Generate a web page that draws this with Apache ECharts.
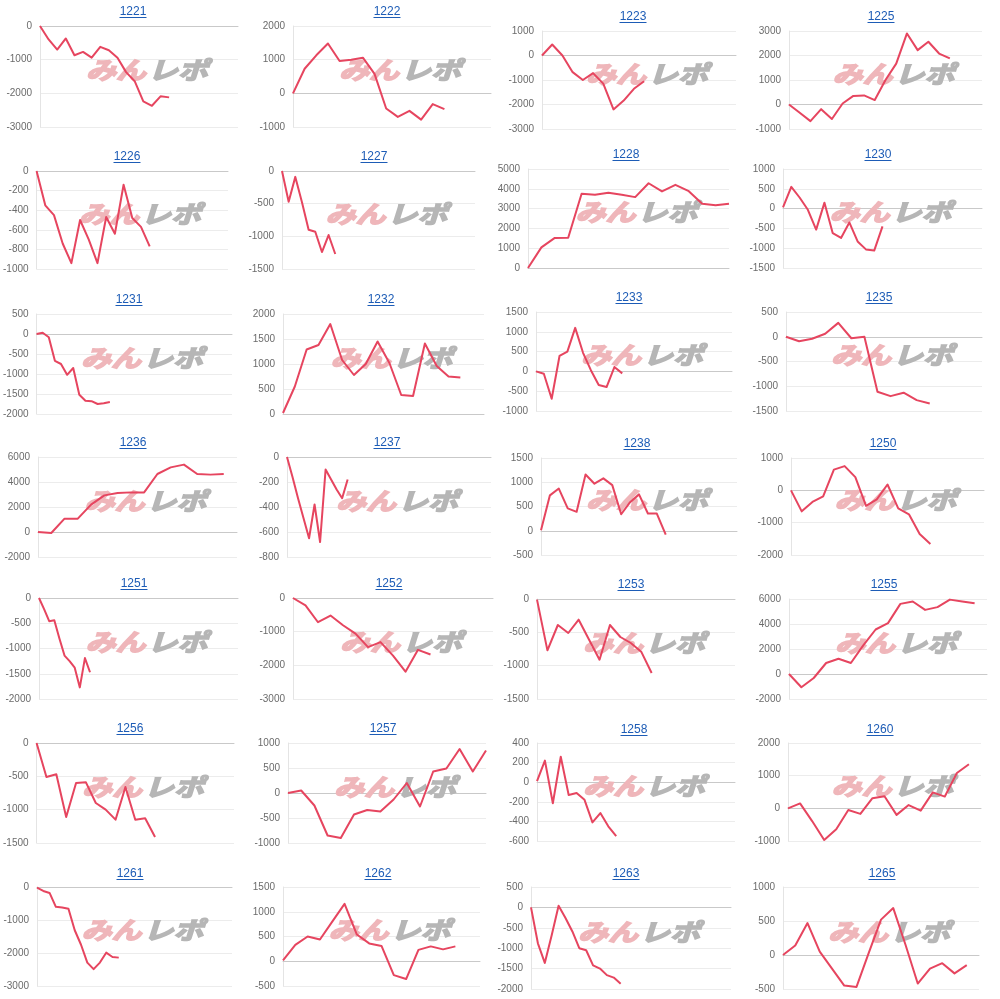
<!DOCTYPE html>
<html>
<head>
<meta charset="utf-8">
<script src="https://cdn.jsdelivr.net/npm/echarts@6/dist/echarts.min.js"></script>
<style>
  html, body { margin: 0; background: #fff; }
  #chart-container { width: 1000px; height: 999px; }
</style>
</head>
<body>
<div id="chart-container"></div>
<script>
// panel titles, in reading order (4 per row)
var names = ["1221", "1222", "1223", "1225", "1226", "1227", "1228", "1230",
  "1231", "1232", "1233", "1235", "1236", "1237", "1238", "1250",
  "1251", "1252", "1253", "1255", "1256", "1257", "1258", "1260",
  "1261", "1262", "1263", "1265"];

// running balance per panel
var s1221 = [0, -400, -700, -370, -870, -770, -940, -620, -720, -940, -1370, -1640, -2240, -2370, -2090, -2120];
var s1222 = [0, 730, 1130, 1480, 960, 1000, 1060, 580, -450, -700, -520, -780, -320, -470];
var s1223 = [0, 450, 0, -680, -1000, -720, -1150, -2200, -1840, -1360, -1050];
var s1225 = [0, -340, -680, -190, -590, 40, 350, 370, 180, 1000, 1670, 2900, 2220, 2560, 2080, 1880];
var s1226 = [0, -350, -450, -740, -940, -500, -700, -940, -470, -640, -140, -480, -570, -770];
var s1227 = [0, -470, -90, -480, -900, -930, -1240, -980, -1270];
var s1228 = [0, 1040, 1520, 1530, 3750, 3700, 3800, 3700, 3580, 4280, 3870, 4200, 3880, 3250, 3170, 3250];
var s1230 = [30, 550, 280, -30, -530, 150, -620, -740, -350, -830, -1030, -1060, -450];
var s1231 = [0, 30, -80, -670, -750, -1020, -850, -1520, -1670, -1680, -1750, -1730, -1700];
var s1232 = [20, 550, 1290, 1380, 1800, 1080, 780, 1000, 1450, 1020, 380, 360, 1410, 960, 750, 730];
var s1233 = [0, -60, -690, 390, 500, 1100, 470, 30, -345, -395, 110, -50];
var s1235 = [0, -90, -40, 60, 280, -30, 0, -1110, -1200, -1130, -1280, -1350];
var s1236 = [0, -80, 1070, 1070, 2190, 2930, 3120, 3170, 3170, 4640, 5170, 5390, 4640, 4590, 4640];
var s1237 = [0, -160, -330, -490, -650, -380, -680, -100, -180, -260, -330, -180];
var s1238 = [10, 730, 870, 460, 390, 1160, 970, 1080, 940, 340, 590, 750, 355, 355, -80];
var s1250 = [0, -650, -360, -190, 640, 750, 410, -480, -280, 180, -560, -740, -1350, -1660];
var s1251 = [0, -220, -460, -440, -800, -1140, -1250, -1380, -1770, -1190, -1470];
var s1252 = [0, -220, -720, -520, -810, -1060, -1460, -1310, -1710, -2190, -1540, -1680];
var s1253 = [-10, -770, -390, -510, -310, -610, -910, -390, -570, -660, -790, -1110];
var s1255 = [0, -1060, -320, 880, 1220, 880, 2290, 3560, 4070, 5610, 5800, 5130, 5350, 5950, 5800, 5660];
var s1256 = [0, -510, -470, -1110, -600, -590, -900, -1000, -1150, -660, -1150, -1130, -1410];
var s1257 = [0, 50, -250, -850, -900, -430, -340, -370, -130, 200, -270, 430, 490, 880, 430, 850];
var s1258 = [10, 220, -215, 260, -130, -110, -180, -410, -315, -450, -550];
var s1260 = [0, 150, -390, -970, -640, -50, -170, 310, 370, -200, 100, -70, 490, 360, 1080, 1350];
var s1261 = [-20, -120, -180, -600, -620, -660, -1310, -1750, -2290, -2490, -2290, -1990, -2120, -2140];
var s1262 = [20, 330, 500, 440, 800, 1160, 540, 360, 310, -280, -360, 230, 300, 240, 300];
var s1263 = [0, -880, -1360, -680, 40, -260, -590, -1000, -1050, -1420, -1500, -1660, -1720, -1870];
var s1265 = [0, 140, 470, 50, -200, -450, -470, 30, 520, 690, 150, -420, -200, -120, -270, -150];

var values = [s1221, s1222, s1223, s1225, s1226, s1227, s1228, s1230,
  s1231, s1232, s1233, s1235, s1236, s1237, s1238, s1250,
  s1251, s1252, s1253, s1255, s1256, s1257, s1258, s1260,
  s1261, s1262, s1263, s1265];

// y scale per panel
var yMin  = [-3000, -1000, -3000, -1000, -1000, -1500, 0, -1500,
  -2000, 0, -1000, -1500, -2000, -800, -500, -2000,
  -2000, -3000, -1500, -2000, -1500, -1000, -600, -1000,
  -3000, -500, -2000, -500];
var yMax  = [0, 2000, 1000, 3000, 0, 0, 5000, 1000,
  500, 2000, 1500, 500, 6000, 0, 1500, 1000,
  0, 0, 0, 6000, 0, 1000, 400, 2000,
  0, 1500, 500, 1000];
var yStep = [1000, 1000, 1000, 1000, 200, 500, 1000, 500,
  500, 500, 500, 500, 2000, 200, 500, 1000,
  500, 1000, 500, 2000, 500, 500, 200, 1000,
  1000, 500, 500, 500];
// number of x slots (days) on each panel
var slots = [24, 18, 20, 19, 23, 30, 16, 25,
  33, 18, 26, 16, 16, 38, 23, 19,
  40, 17, 20, 17, 21, 16, 26, 17,
  32, 17, 30, 17];

// plot boxes [left, right, top, bottom] and title centres [x, y]
var boxes = [
  [40, 238, 26, 127], [293, 491, 26, 127], [542, 736, 31, 129], [789, 982, 31, 129],
  [36, 228, 171, 269], [282, 475, 171, 269], [528, 729, 169, 268], [783, 982, 169, 268],
  [36, 232, 314, 414], [283, 484, 314, 414], [536, 732, 312, 411], [786, 982, 312, 411],
  [38, 237, 457, 557], [287, 491, 457, 557], [541, 737, 458, 555], [791, 984, 458, 555],
  [39, 238, 598, 699], [293, 493, 598, 699], [537, 735, 599, 699], [789, 987, 599, 699],
  [36, 234, 743, 843], [288, 486, 743, 843], [537, 735, 743, 841], [788, 981, 743, 841],
  [37, 232, 887, 986], [283, 480, 887, 986], [531, 731, 887, 989], [783, 979, 887, 989]
];
var heads = [
  [133, 12], [387, 12], [633, 17], [881, 17],
  [127, 157], [374, 157], [626, 155], [878, 155],
  [129, 300], [381, 300], [629, 298], [879, 298],
  [133, 443], [387, 443], [637, 444], [883, 444],
  [134, 584], [389, 584], [631, 585], [884, 585],
  [130, 729], [383, 729], [634, 730], [880, 730],
  [130, 874], [378, 874], [626, 874], [882, 874]
];

var dom = document.getElementById("chart-container");
var myChart = echarts.init(dom, null, { renderer: "canvas" });

var grids = [], xAxes = [], yAxes = [], seriesList = [], graphics = [];

function logoPart(text, x, y, color) {
  return {
    type: "text",
    x: x,
    y: y,
    z: 1,
    scaleX: 1.25,
    style: {
      text: text,
      fill: color,
      stroke: color,
      lineWidth: 1.6,
      font: "italic bold 24px 'Noto Sans CJK JP'",
      textAlign: "left",
      textVerticalAlign: "middle",
      align: "left",
      verticalAlign: "middle",
    },
  };
}

names.forEach(function (name, i) {
  var b = boxes[i];
  grids.push({ left: b[0], top: b[2], width: b[1] - b[0], height: b[3] - b[2] });

  var cats = [];
  for (var k = 0; k < slots[i]; k++) cats.push(String(k + 1));
  xAxes.push({
    type: "category",
    gridIndex: i,
    data: cats,
    boundaryGap: false,
    axisLabel: { show: false },
    axisTick: { show: false },
    axisLine: { show: true, onZero: true, lineStyle: { color: "#c9c9c9", width: 1 } },
    splitLine: { show: false },
  });
  yAxes.push({
    type: "value",
    gridIndex: i,
    min: yMin[i],
    max: yMax[i],
    interval: yStep[i],
    axisLine: { show: true, lineStyle: { color: "#e4e4e4" } },
    axisTick: { show: false },
    axisLabel: {
      color: "#6b6b6b",
      fontSize: 10,
      fontFamily: "Liberation Sans, Arial",
      margin: 8,
      formatter: function (v) { return String(v); },
    },
    splitLine: { lineStyle: { color: "#ececec" } },
  });
  seriesList.push({
    name: name,
    type: "line",
    xAxisIndex: i,
    yAxisIndex: i,
    data: values[i],
    showSymbol: false,
    silent: true,
    z: 3,
    lineStyle: { color: "#e6455f", width: 2, join: "round" },
  });

  // title with underline (link look)
  var h = heads[i];
  graphics.push({
    type: "text",
    x: h[0],
    y: h[1],
    z: 10,
    style: {
      text: name,
      fill: "#1d5cb6",
      font: "12px 'Liberation Sans', Arial",
      textAlign: "center",
      textVerticalAlign: "middle",
      align: "center",
      verticalAlign: "middle",
    },
  });
  graphics.push({
    type: "line",
    z: 10,
    shape: { x1: h[0] - 13.5, y1: h[1] + 5.5, x2: h[0] + 13.5, y2: h[1] + 5.5 },
    style: { stroke: "#1d5cb6", lineWidth: 1 },
  });

  // watermark logo
  var wx = (b[0] + b[1]) / 2 + 8;
  var wy = (b[2] + b[3]) / 2 - 6.5;
  graphics.push(logoPart("みん", wx - 61, wy, "#efb6ba"));
  graphics.push(logoPart("レポ", wx + 1, wy, "#b6b6b6"));
});

var option = {
  backgroundColor: "#ffffff",
  animation: false,
  grid: grids,
  xAxis: xAxes,
  yAxis: yAxes,
  series: seriesList,
  graphic: { elements: graphics },
};

myChart.setOption(option);
window.addEventListener("resize", myChart.resize);
</script>
</body>
</html>
